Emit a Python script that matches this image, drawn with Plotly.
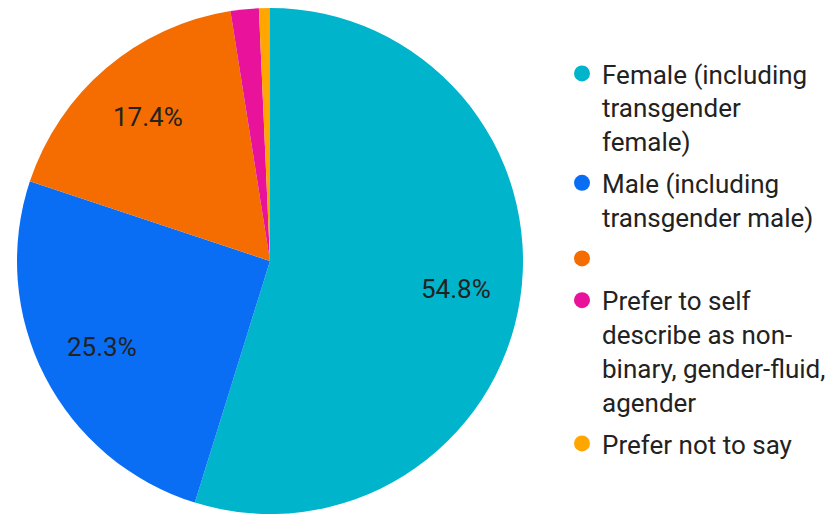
import math
import plotly.graph_objects as go

labels = [
    "Female (including<br>transgender<br>female)",
    "Male (including<br>transgender male)",
    "",
    "Prefer to self<br>describe as non-<br>binary, gender-fluid,<br>agender",
    "Prefer not to say",
]
values = [54.8, 25.3, 17.4, 1.8, 0.7]
colors = ["#00B4CB", "#0A6EF5", "#F56C00", "#E8129B", "#FFA600"]

W, H = 839, 515
cx, cy, R = 270, 261, 253

fig = go.Figure()
fig.add_trace(go.Pie(
    labels=[f"s{i}" for i in range(len(values))],
    values=values,
    sort=False,
    direction="clockwise",
    rotation=0,
    marker=dict(colors=colors, line=dict(width=0)),
    textinfo="none",
    showlegend=False,
    hoverinfo="skip",
    domain=dict(x=[(cx - R) / W, (cx + R) / W], y=[(H - cy - R) / H, (H - cy + R) / H]),
))

# percentage labels placed along each slice's mid-angle (computed from the values)
total = sum(values)
cum = 0.0
for v in values:
    mid = (cum + v / 2) / total * 2 * math.pi
    cum += v
    if v / total < 0.05:
        continue
    r = 0.745 * R
    px = cx + r * math.sin(mid)
    py = cy - r * math.cos(mid)
    fig.add_annotation(
        x=px / W, y=(H - py) / H, xref="paper", yref="paper",
        text=f"{v / total * 100:.1f}%", showarrow=False,
        font=dict(family="Roboto", size=26, color="#222222"),
        xanchor="center", yanchor="middle",
    )

for lab, col in zip(labels, colors):
    fig.add_trace(go.Scatter(
        x=[None], y=[None], mode="markers", name=lab if lab else " ",
        marker=dict(symbol="circle", size=16, color=col),
        legendgroup=lab if lab else "blank", showlegend=True,
    ))

fig.update_layout(
    width=W, height=H,
    margin=dict(l=0, r=0, t=0, b=0),
    paper_bgcolor="white", plot_bgcolor="white",
    xaxis=dict(visible=False), yaxis=dict(visible=False),
    legend=dict(
        x=562 / W, y=(H - 50) / H, xanchor="left", yanchor="top",
        font=dict(family="Roboto", size=26, color="#222222"),
        tracegroupgap=5, itemsizing="trace", valign="top",
        bgcolor="rgba(0,0,0,0)",
    ),
    font=dict(family="Roboto"),
)

fig.write_html("out.html", config={"displayModeBar": False},
               post_script="document.body.style.margin='0';")
